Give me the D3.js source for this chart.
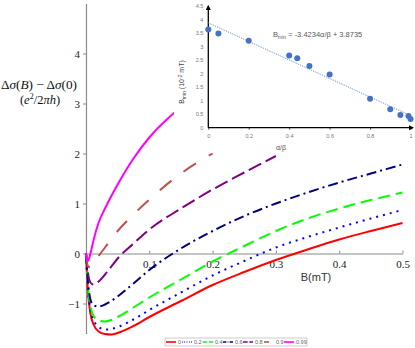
<!DOCTYPE html>
<html>
<head>
<meta charset="utf-8">
<script src="https://cdnjs.cloudflare.com/ajax/libs/d3/7.8.5/d3.min.js"></script>
<style>
  body { margin: 0; background: #fff; }
  svg { display: block; }
</style>
</head>
<body>
<svg width="415" height="348"></svg>
<script>
// magnetic field samples (mT), shared by all curves
const bField = [0, 0.003, 0.007, 0.012, 0.02, 0.03, 0.04, 0.05, 0.075, 0.1, 0.15, 0.2, 0.25, 0.3, 0.35, 0.4, 0.45, 0.5];

// Δσ(B) - Δσ(0) for each α/β, null where the inset hides the curve
const ratios = ['0', '0.2', '0.4', '0.6', '0.8', '0.9', '0.99'];
const curve0   = [0, -0.75, -1.2, -1.42, -1.56, -1.61, -1.62, -1.59, -1.45, -1.27, -0.95, -0.63, -0.37, -0.13, 0.08, 0.28, 0.45, 0.61];
const curve02  = [0, -0.7, -1.12, -1.33, -1.47, -1.52, -1.51, -1.47, -1.32, -1.13, -0.78, -0.44, -0.15, 0.12, 0.33, 0.52, 0.70, 0.87];
const curve04  = [0, -0.65, -1.05, -1.25, -1.34, -1.36, -1.33, -1.27, -1.08, -0.88, -0.52, -0.16, 0.15, 0.45, 0.70, 0.90, 1.07, 1.22];
const curve06  = [0, -0.55, -0.92, -1.04, -1.06, -1.02, -0.95, -0.86, -0.60, -0.33, 0.10, 0.45, 0.75, 1.00, 1.22, 1.42, 1.60, 1.78];
const curve08  = [0, -0.38, -0.58, -0.62, -0.56, -0.42, -0.26, -0.10, 0.20, 0.48, 0.90, 1.28, 1.62, 1.95, null, null, null, null];
const curve09  = [0, -0.25, -0.28, -0.22, -0.05, 0.12, 0.29, 0.45, 0.78, 1.08, 1.60, 2.00, null, null, null, null, null, null];
const curve099 = [0, -0.15, 0.0, 0.27, 0.62, 0.9, 1.15, 1.38, 1.9, 2.32, 2.93, null, null, null, null, null, null, null];

const yTicks = [-1, 0, 1, 2, 3, 4];
const xTicks = [0.1, 0.2, 0.3, 0.4, 0.5];

// inset: B_min against α/β
const alphaBeta = [0, 0.05, 0.2, 0.4, 0.44, 0.5, 0.6, 0.8, 0.9, 0.95, 0.99, 1.0];
const bMin      = [3.63, 3.48, 3.21, 2.67, 2.57, 2.28, 1.97, 1.07, 0.68, 0.47, 0.43, 0.32];
const fitSlope = -3.4234, fitIntercept = 3.8735;
const insetXTicks = [0, 0.2, 0.4, 0.6, 0.8, 1];
const insetYTicks = [0, 0.5, 1, 1.5, 2, 2.5, 3, 3.5, 4, 4.5];

const series = [
	{values: curve0,   color: '#ff0000', dash: null},
	{values: curve02,  color: '#0000ff', dash: '2,5'},
	{values: curve04,  color: '#00ff00', dash: '12,6'},
	{values: curve06,  color: '#000080', dash: '10,4,2,4'},
	{values: curve08,  color: '#800080', dash: '14,5'},
	{values: curve09,  color: '#c0504d', dash: '15,15'},
	{values: curve099, color: '#ff00ff', dash: null}
];

const svg = d3.select('svg');

const xScale = d3.scaleLinear().domain([0, 0.5]).range([86, 402.5]);
const yScale = d3.scaleLinear().domain([-1.6, 5.0]).range([333.5, 3.5]);

// axes
const yAxis = svg.append('g')
	.attr('transform', `translate(${xScale(0)},0)`)
	.call(d3.axisLeft(yScale).tickValues(yTicks).tickSize(3).tickSizeOuter(0).tickPadding(3)
		.tickFormat(d => d < 0 ? '\u2212' + Math.abs(d) : d));

const xAxis = svg.append('g')
	.attr('transform', `translate(0,${yScale(0)})`)
	.call(d3.axisBottom(xScale).tickValues(xTicks).tickSize(-3).tickSizeOuter(0).tickPadding(7)
		.tickFormat(d3.format('.1f')));

[yAxis, xAxis].forEach(a => {
	a.select('.domain').attr('stroke', '#8a8a8a').attr('stroke-width', 1.2);
	a.selectAll('.tick line').attr('stroke', '#8a8a8a');
	a.selectAll('text').attr('font-family', 'Liberation Serif').attr('font-size', 11).attr('fill', '#222');
});

// curves
const line = d3.line()
	.defined(d => d[1] !== null)
	.x(d => xScale(d[0]))
	.y(d => yScale(d[1]))
	.curve(d3.curveMonotoneX);

series.forEach(s => {
	svg.append('path')
		.datum(bField.map((b, i) => [b, s.values[i]]))
		.attr('d', line)
		.attr('fill', 'none')
		.attr('stroke', s.color)
		.attr('stroke-width', 2)
		.attr('stroke-dasharray', s.dash);
});

// x label
svg.append('text')
	.attr('x', 316).attr('y', 281)
	.attr('text-anchor', 'middle')
	.attr('font-family', 'Liberation Sans')
	.attr('font-size', 11)
	.attr('fill', '#333')
	.text('B(mT)');

// y label (two lines)
const ylab = svg.append('g')
	.attr('font-family', 'Liberation Serif')
	.attr('font-size', 12.5)
	.attr('fill', '#111')
	.attr('text-anchor', 'middle');

let t1 = ylab.append('text').attr('x', 39).attr('y', 89)
	.attr('textLength', 76).attr('lengthAdjust', 'spacingAndGlyphs');
t1.append('tspan').text('Δ');
t1.append('tspan').attr('font-style', 'italic').text('σ');
t1.append('tspan').text('(');
t1.append('tspan').attr('font-style', 'italic').text('B');
t1.append('tspan').text(') − Δ');
t1.append('tspan').attr('font-style', 'italic').text('σ');
t1.append('tspan').text('(0)');

let t2 = ylab.append('text').attr('x', 40).attr('y', 104);
t2.append('tspan').text('(');
t2.append('tspan').attr('font-style', 'italic').text('e');
t2.append('tspan').attr('font-size', 8).attr('dy', -5).text('2');
t2.append('tspan').attr('dy', 5).text('/2');
t2.append('tspan').attr('font-style', 'italic').text('πh');
t2.append('tspan').text(')');

// legend
const legend = svg.append('g');
legend.append('rect')
	.attr('x', 165).attr('y', 338).attr('width', 142).attr('height', 8)
	.attr('fill', '#fff').attr('stroke', '#aaa').attr('stroke-width', 0.6);

const legendX = [166, 182, 203, 223, 243, 264, 284];
series.forEach((s, i) => {
	legend.append('line')
		.attr('x1', legendX[i]).attr('x2', legendX[i] + 10)
		.attr('y1', 342).attr('y2', 342)
		.attr('stroke', s.color).attr('stroke-width', 1.6)
		.attr('stroke-dasharray', s.dash ? s.dash.split(',').map(v => v / 3).join(',') : null);
	legend.append('text')
		.attr('x', legendX[i] + 12).attr('y', 344)
		.attr('font-family', 'Liberation Sans').attr('font-size', 5.5)
		.attr('fill', '#666')
		.text(ratios[i]);
});

// ---- inset ----
const inset = svg.append('g');
inset.append('rect')
	.attr('x', 174).attr('y', 0).attr('width', 241).attr('height', 153)
	.attr('fill', '#fff');

const xi = d3.scaleLinear().domain([0, 1]).range([208.3, 410.5]);
const yi = d3.scaleLinear().domain([0, 4.5]).range([127.7, 5.9]);

svg.append('defs').append('marker')
	.attr('id', 'arrow')
	.attr('viewBox', '0 0 10 10')
	.attr('refX', 8).attr('refY', 5)
	.attr('markerWidth', 4).attr('markerHeight', 4)
	.attr('orient', 'auto')
	.append('path').attr('d', 'M0,0L10,5L0,10z').attr('fill', '#000');

const xiAxis = inset.append('g')
	.attr('transform', `translate(0,${yi(0)})`)
	.call(d3.axisBottom(xi).tickValues(insetXTicks).tickSize(2).tickSizeOuter(0).tickPadding(4)
		.tickFormat(d3.format('')));
const yiAxis = inset.append('g')
	.attr('transform', `translate(${xi(0)},0)`)
	.call(d3.axisLeft(yi).tickValues(insetYTicks).tickSize(0).tickPadding(5)
		.tickFormat(d3.format('')));

[xiAxis, yiAxis].forEach(a => {
	a.select('.domain').remove();
	a.selectAll('.tick line').attr('stroke', '#555');
	a.selectAll('text').attr('font-family', 'Liberation Sans').attr('font-size', 5.5).attr('fill', '#777');
});

inset.append('line')
	.attr('x1', xi(0)).attr('x2', 413).attr('y1', yi(0)).attr('y2', yi(0))
	.attr('stroke', '#000').attr('stroke-width', 1.3).attr('marker-end', 'url(#arrow)');
inset.append('line')
	.attr('x1', xi(0)).attr('x2', xi(0)).attr('y1', yi(0)).attr('y2', 6)
	.attr('stroke', '#000').attr('stroke-width', 1.3).attr('marker-end', 'url(#arrow)');

// trend line
inset.append('line')
	.attr('x1', xi(0)).attr('y1', yi(fitIntercept))
	.attr('x2', xi(1)).attr('y2', yi(fitSlope + fitIntercept))
	.attr('stroke', '#5b8fd5').attr('stroke-width', 1)
	.attr('stroke-dasharray', '1.2,1.2');

inset.selectAll('circle')
	.data(alphaBeta)
	.enter()
	.append('circle')
	.attr('cx', d => xi(d))
	.attr('cy', (d, i) => yi(bMin[i]))
	.attr('r', 3)
	.attr('fill', '#4472c4');

// equation
let eq = inset.append('text')
	.attr('x', 273).attr('y', 37)
	.attr('font-family', 'Liberation Sans').attr('font-size', 7.5)
	.attr('fill', '#595959');
eq.append('tspan').text('B');
eq.append('tspan').attr('font-size', 5).attr('dy', 1.5).text('min');
eq.append('tspan').attr('dy', -1.5).text(' = -3.4234α/β + 3.8735');

// inset labels
let yl = inset.append('text')
	.attr('transform', 'translate(184,82) rotate(-90)')
	.attr('text-anchor', 'middle')
	.attr('font-family', 'Liberation Sans').attr('font-size', 7)
	.attr('fill', '#444');
yl.append('tspan').text('B');
yl.append('tspan').attr('font-size', 5).attr('dy', 1.5).text('min');
yl.append('tspan').attr('dy', -1.5).text(' (10');
yl.append('tspan').attr('font-size', 5).attr('dy', -2.5).text('-2');
yl.append('tspan').attr('dy', 2.5).text(' mT)');

inset.append('text')
	.attr('x', 281).attr('y', 150)
	.attr('text-anchor', 'middle')
	.attr('font-family', 'Liberation Sans').attr('font-size', 7)
	.attr('fill', '#555')
	.text('α/β');
</script>
</body>
</html>
